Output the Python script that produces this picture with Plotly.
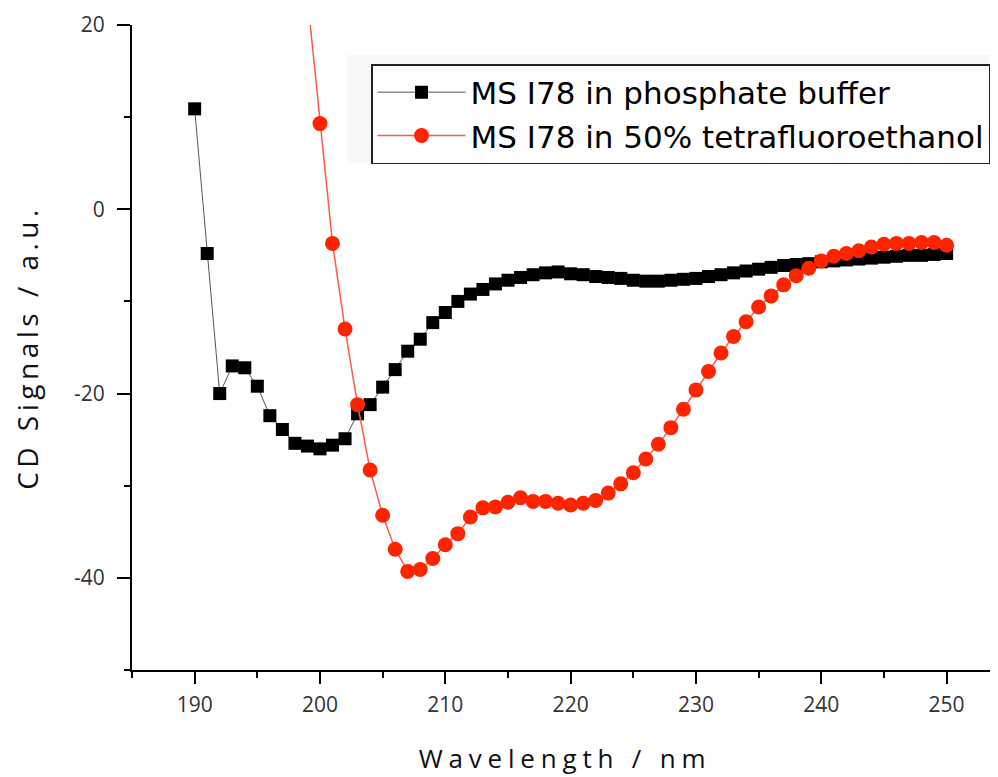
import plotly.graph_objects as go

# Wavelength (nm)
wl_buffer = list(range(190, 251))
cd_buffer = [
    10.9, -4.8, -20.0, -17.0, -17.2, -19.2, -22.4, -23.9, -25.4, -25.7,
    -26.0, -25.6, -24.9, -22.2, -21.2, -19.3, -17.4, -15.4, -14.1, -12.3,
    -11.2, -10.0, -9.2, -8.7, -8.1, -7.7, -7.4, -7.1, -6.9, -6.8,
    -7.0, -7.1, -7.3, -7.4, -7.5, -7.7, -7.8, -7.8, -7.7, -7.6,
    -7.5, -7.3, -7.1, -6.9, -6.7, -6.5, -6.3, -6.1, -6.0, -5.9,
    -5.7, -5.6, -5.5, -5.4, -5.3, -5.2, -5.1, -5.0, -5.0, -4.9,
    -4.8,
]

wl_tfe = list(range(199, 251))
cd_tfe = [
    23.0, 9.3, -3.7, -13.0, -21.2, -28.3, -33.2, -36.9, -39.3, -39.1,
    -37.9, -36.4, -35.2, -33.4, -32.4, -32.3, -31.8, -31.3, -31.7, -31.7,
    -31.9, -32.1, -31.9, -31.6, -30.8, -29.8, -28.6, -27.1, -25.5, -23.7,
    -21.7, -19.6, -17.6, -15.6, -13.8, -12.2, -10.6, -9.4, -8.2, -7.2,
    -6.4, -5.6, -5.1, -4.8, -4.5, -4.1, -3.8, -3.7, -3.7, -3.6,
    -3.6, -3.9,
]

x_ticks = [190, 200, 210, 220, 230, 240, 250]
y_ticks = [-40, -20, 0, 20]

names = ["MS I78 in phosphate buffer", "MS I78 in 50% tetrafluoroethanol"]


def spaced(txt, px):
    return '<span style="letter-spacing:%spx">%s</span>' % (px, txt)


fig = go.Figure()
fig.add_trace(go.Scatter(
    x=wl_buffer, y=cd_buffer, mode="lines+markers", name=names[0],
    legendgroup="a",
    line=dict(color="#555555", width=1),
    marker=dict(symbol="square", size=13, color="black"),
))
fig.add_trace(go.Scatter(
    x=wl_tfe, y=cd_tfe, mode="lines+markers", name=names[1],
    legendgroup="b",
    line=dict(color="#ff5a4a", width=1.5),
    marker=dict(symbol="circle", size=15, color="#ff2400"),
))

fig.add_shape(type="rect", xref="paper", yref="paper",
              x0=0.248, x1=1.0, y0=0.786, y1=0.9535,
              fillcolor="#f7f7f7", line=dict(width=0), layer="below")

fig.update_layout(
    width=990, height=769,
    margin=dict(l=124, r=0, t=17, b=107),
    paper_bgcolor="white", plot_bgcolor="white",
    font=dict(family="Open Sans", color="#222222"),
    showlegend=True,
    legend=dict(
        x=0.276, y=0.9395, xanchor="left", yanchor="top",
        bgcolor="white", bordercolor="#222222", borderwidth=1.5,
        font=dict(family="DejaVu Sans", size=31, color="black"),
        itemwidth=88, tracegroupgap=0,
    ),
)

fig.update_xaxes(
    range=[185, 254.1], tickvals=x_ticks, ticktext=[str(v) for v in x_ticks],
    showline=True, linecolor="black", linewidth=2, mirror=False,
    ticks="outside", ticklen=12, tickwidth=2, tickcolor="black",
    minor=dict(ticks="outside", ticklen=6, tickwidth=2, tickcolor="black", dtick=5, tick0=185),
    showgrid=False, zeroline=False,
    tickfont=dict(family="Open Sans", size=21, color="#333333"),
    ticklabelstandoff=3,
    title=dict(text=spaced("Wavelength / nm", 5.8), font=dict(family="Open Sans", size=26, color="#111111"), standoff=33),
    automargin=False,
)
fig.update_yaxes(
    range=[-50, 20], tickvals=y_ticks, ticktext=[str(v) for v in y_ticks],
    showline=True, linecolor="black", linewidth=2,
    ticks="outside", ticklen=13, tickwidth=2, tickcolor="black",
    minor=dict(ticks="outside", ticklen=6, tickwidth=2, tickcolor="black", dtick=10, tick0=0),
    showgrid=False, zeroline=False,
    tickfont=dict(family="Open Sans", size=21, color="#333333"),
    ticklabelstandoff=8,
    title=dict(text=spaced("CD Signals / a.u.", 4.5), font=dict(family="Open Sans", size=28, color="#111111"), standoff=30),
    automargin=False,
)

fig.write_html("out.html")
